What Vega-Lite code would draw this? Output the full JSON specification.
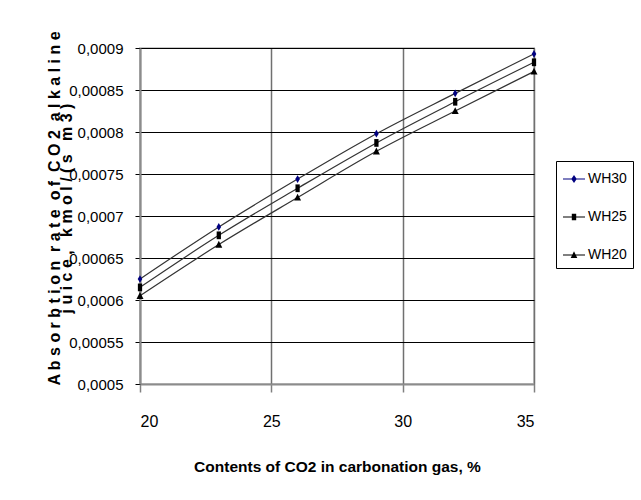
{
  "$schema": "https://vega.github.io/schema/vega-lite/v6.json",
  "autosize": {"type": "none"},
  "padding": {"left": 140, "top": 48, "right": 107, "bottom": 116},
  "width": 394,
  "height": 336,
  "background": "white",
  "config": {
    "font": "Liberation Sans",
    "view": {"stroke": "#c8c8c8", "strokeWidth": 2}
  },
  "data": {
    "values": [
      {"x": 20, "series": "WH30", "y": 0.000625},
      {"x": 23, "series": "WH30", "y": 0.000687},
      {"x": 26, "series": "WH30", "y": 0.000744},
      {"x": 29, "series": "WH30", "y": 0.000798},
      {"x": 32, "series": "WH30", "y": 0.000846},
      {"x": 35, "series": "WH30", "y": 0.000893},
      {"x": 20, "series": "WH25", "y": 0.000615},
      {"x": 23, "series": "WH25", "y": 0.000677},
      {"x": 26, "series": "WH25", "y": 0.000733},
      {"x": 29, "series": "WH25", "y": 0.000787},
      {"x": 32, "series": "WH25", "y": 0.000836},
      {"x": 35, "series": "WH25", "y": 0.000883},
      {"x": 20, "series": "WH20", "y": 0.000605},
      {"x": 23, "series": "WH20", "y": 0.000666},
      {"x": 26, "series": "WH20", "y": 0.000722},
      {"x": 29, "series": "WH20", "y": 0.000777},
      {"x": 32, "series": "WH20", "y": 0.000825},
      {"x": 35, "series": "WH20", "y": 0.000872}
    ]
  },
  "encoding": {
    "x": {
      "field": "x", "type": "quantitative",
      "scale": {"domain": [20, 35], "nice": false, "zero": false},
      "axis": {
        "values": [20, 25, 30, 35],
        "title": "Contents of CO2 in carbonation gas, %",
        "titleFontSize": 15.5, "titleFontWeight": "bold", "titleColor": "#000",
        "titleX": 197, "titleY": 82, "titleBaseline": "middle",
        "labelFontSize": 16, "labelColor": "#000", "labelPadding": 21,
        "tickColor": "#808080", "tickSize": 8, "tickWidth": 1.5,
        "domainColor": "#8c8c8c", "domainWidth": 2,
        "grid": true, "gridColor": "#707070", "gridWidth": 1.5
      }
    },
    "y": {
      "field": "y", "type": "quantitative",
      "scale": {"domain": [0.0005, 0.0009], "nice": false, "zero": false},
      "axis": {
        "values": [0.0005, 0.00055, 0.0006, 0.00065, 0.0007, 0.00075, 0.0008, 0.00085, 0.0009],
        "labelExpr": "replace(format(datum.value, '.5~f'), '.', ',')",
        "title": ["A b s o r b t i o n \u00a0r a t e \u00a0o f \u00a0C O 2 \u00a0a l k a l i n e", "j u i c e , \u00a0\u00a0k m o l / ( s \u00a0\u00a0m 3 )"],
        "titleFontSize": 16, "titleFontWeight": "bold", "titleColor": "#000",
        "titleAngle": -90, "titleX": -86, "titleY": 160, "titleBaseline": "middle",
        "titleLineHeight": 12, "titleAlign": "center",
        "labelFontSize": 15, "labelColor": "#000", "labelPadding": 12,
        "tickColor": "#000", "tickSize": 5,
        "domainColor": "#8c8c8c", "domainWidth": 2,
        "grid": true, "gridColor": "#000", "gridWidth": 1
      }
    }
  },
  "layer": [
    {
      "mark": {"type": "line", "interpolate": "monotone", "stroke": "#333333", "strokeWidth": 1.2},
      "encoding": {"detail": {"field": "series"}}
    },
    {
      "mark": {"type": "point", "filled": true, "size": 60, "opacity": 1},
      "encoding": {
        "shape": {
          "field": "series", "type": "nominal",
          "scale": {"domain": ["WH30", "WH25", "WH20"], "range": ["M0,-1L0.6,0L0,1L-0.6,0Z", "M-0.55,-1H0.55V1H-0.55Z", "M0,-1L0.9,0.8H-0.9Z"]},
          "legend": null
        },
        "fill": {
          "field": "series", "type": "nominal",
          "scale": {"domain": ["WH30", "WH25", "WH20"], "range": ["#000080", "#000000", "#000000"]},
          "legend": null
        }
      }
    },
    {
      "transform": [{"filter": "false"}],
      "mark": {"type": "point", "filled": true, "opacity": 1, "size": 484},
      "encoding": {
        "shape": {
          "field": "series", "type": "nominal",
          "scale": {"domain": ["WH30", "WH25", "WH20"], "range": [
            "M-1,-0.045H1V0.045H-1Z M0,-0.36L0.25,0L0,0.36L-0.25,0Z",
            "M-1,-0.045H1V0.045H-1Z M-0.2,-0.3H0.2V0.3H-0.2Z",
            "M-1,-0.045H1V0.045H-1Z M0,-0.34L0.3,0.28H-0.3Z"
          ]},
          "legend": {
            "title": null, "orient": "none", "legendX": 416, "legendY": 113,
            "strokeColor": "#000", "padding": 6, "symbolSize": 484,
            "labelFontSize": 14, "labelColor": "#000",
            "labelOffset": 2, "rowPadding": 19, "symbolOpacity": 1
          }
        },
        "fill": {
          "field": "series", "type": "nominal",
          "scale": {"domain": ["WH30", "WH25", "WH20"], "range": ["#000080", "#000000", "#000000"]},
          "legend": {
            "title": null, "orient": "none", "legendX": 416, "legendY": 113,
            "strokeColor": "#000", "padding": 6, "symbolSize": 484,
            "labelFontSize": 14, "labelColor": "#000",
            "labelOffset": 2, "rowPadding": 19, "symbolOpacity": 1
          }
        }
      }
    }
  ],
  "resolve": {"scale": {"shape": "independent", "fill": "independent"}}
}
